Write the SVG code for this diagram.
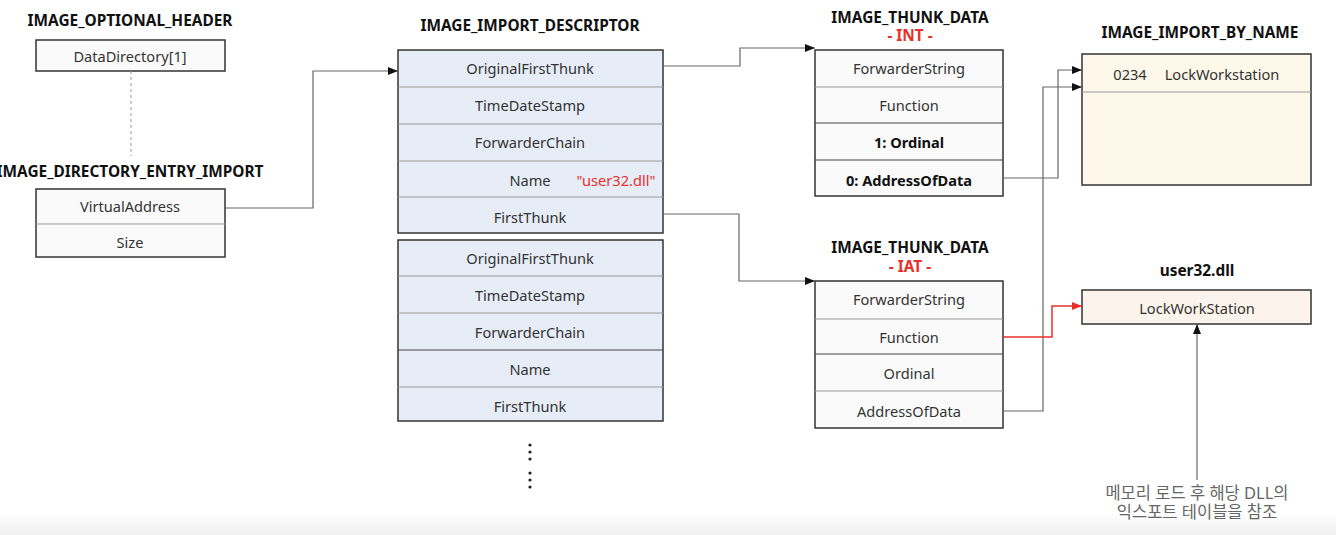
<svg xmlns="http://www.w3.org/2000/svg" width="1336" height="535" viewBox="0 0 1336 535">
<defs>
<linearGradient id="bot" x1="0" y1="0" x2="0" y2="1">
<stop offset="0" stop-color="#ffffff"/>
<stop offset="1" stop-color="#efefef"/>
</linearGradient>
<marker id="ah" markerWidth="10" markerHeight="8" refX="10" refY="4" orient="auto" markerUnits="userSpaceOnUse">
<path d="M0,0 L10,4 L0,8 Z" fill="#111"/>
</marker>
<marker id="ahr" markerWidth="10" markerHeight="8" refX="10" refY="4" orient="auto" markerUnits="userSpaceOnUse">
<path d="M0,0 L10,4 L0,8 Z" fill="#e8302a"/>
</marker>
</defs>
<style>
text{font-family:"Noto Sans","Noto Sans CJK KR",sans-serif;font-size:14.6px;fill:#333;text-anchor:middle;dominant-baseline:central}
.t{font-weight:bold;fill:#111;font-size:15.4px}
.red{fill:#e8302a}
.b{font-weight:bold;fill:#111}
.box{stroke:#333;stroke-width:1.5}
.div{stroke:#999;stroke-width:1}
.divd{stroke:#444;stroke-width:1}
.con{fill:none;stroke:#666;stroke-width:1.2}
.note{fill:#666;font-size:16.5px}
</style>
<rect x="0" y="0" width="1336" height="535" fill="#fff"/>
<rect x="0" y="512" width="1336" height="23" fill="url(#bot)"/>

<g id="optional-header">
<text class="t" x="130" y="20">IMAGE_OPTIONAL_HEADER</text>
<rect class="box" x="36" y="40" width="189" height="31" fill="#fafafa"/>
<text x="130" y="56">DataDirectory[1]</text>
</g>
<line x1="131" y1="71" x2="131" y2="156" stroke="#999" stroke-width="1" stroke-dasharray="3,3"/>

<g id="directory-entry-import">
<text class="t" x="130" y="171">IMAGE_DIRECTORY_ENTRY_IMPORT</text>
<rect class="box" x="36" y="189" width="189" height="68" fill="#fafafa"/>
<line class="div" x1="36" y1="224" x2="225" y2="224"/>
<text x="130" y="206">VirtualAddress</text>
<text x="130" y="242">Size</text>
</g>

<g id="import-descriptor">
<text class="t" x="530" y="25">IMAGE_IMPORT_DESCRIPTOR</text>
<rect class="box" x="398" y="50" width="265" height="183" fill="#e7edf7"/>
<line class="div" x1="398" y1="87" x2="663" y2="87"/>
<line class="div" x1="398" y1="124" x2="663" y2="124"/>
<line class="div" x1="398" y1="161" x2="663" y2="161"/>
<line class="div" x1="398" y1="197" x2="663" y2="197"/>
<text x="530" y="68">OriginalFirstThunk</text>
<text x="530" y="105">TimeDateStamp</text>
<text x="530" y="142">ForwarderChain</text>
<text x="530" y="180">Name</text>
<text class="red" x="616" y="180">"user32.dll"</text>
<text x="530" y="217">FirstThunk</text>
</g>

<g id="import-descriptor-2">
<rect class="box" x="398" y="240" width="265" height="181" fill="#e7edf7"/>
<line class="div" x1="398" y1="276" x2="663" y2="276"/>
<line class="div" x1="398" y1="313" x2="663" y2="313"/>
<line class="divd" x1="398" y1="350" x2="663" y2="350"/>
<line class="div" x1="398" y1="387" x2="663" y2="387"/>
<text x="530" y="258">OriginalFirstThunk</text>
<text x="530" y="295">TimeDateStamp</text>
<text x="530" y="332">ForwarderChain</text>
<text x="530" y="369">Name</text>
<text x="530" y="406">FirstThunk</text>
<g fill="#222">
<circle cx="530" cy="445" r="1.6"/><circle cx="530" cy="452" r="1.6"/><circle cx="530" cy="459" r="1.6"/>
<circle cx="530" cy="473" r="1.6"/><circle cx="530" cy="480" r="1.6"/><circle cx="530" cy="487" r="1.6"/>
</g>
</g>

<g id="thunk-int">
<text class="t" x="910" y="17">IMAGE_THUNK_DATA</text>
<text class="t red" x="910" y="35">- INT -</text>
<rect class="box" x="815" y="50" width="188" height="146" fill="#fafafa"/>
<line class="div" x1="815" y1="87" x2="1003" y2="87"/>
<line class="divd" x1="815" y1="123" x2="1003" y2="123"/>
<line class="divd" x1="815" y1="160" x2="1003" y2="160"/>
<text x="909" y="68">ForwarderString</text>
<text x="909" y="105">Function</text>
<text class="b" x="909" y="142">1: Ordinal</text>
<text class="b" x="909" y="180">0: AddressOfData</text>
</g>

<g id="thunk-iat">
<text class="t" x="910" y="247">IMAGE_THUNK_DATA</text>
<text class="t red" x="910" y="266">- IAT -</text>
<rect class="box" x="815" y="281" width="188" height="147" fill="#fafafa"/>
<line class="div" x1="815" y1="319" x2="1003" y2="319"/>
<line class="divd" x1="815" y1="354" x2="1003" y2="354"/>
<line class="div" x1="815" y1="391" x2="1003" y2="391"/>
<text x="909" y="299">ForwarderString</text>
<text x="909" y="337">Function</text>
<text x="909" y="373">Ordinal</text>
<text x="909" y="411">AddressOfData</text>
</g>

<g id="import-by-name">
<text class="t" x="1200" y="32">IMAGE_IMPORT_BY_NAME</text>
<rect class="box" x="1082" y="54" width="229" height="131" fill="#fdf8e9"/>
<line class="div" x1="1082" y1="92" x2="1311" y2="92"/>
<text x="1130" y="74">0234</text>
<text x="1222" y="74">LockWorkstation</text>
</g>

<g id="user32-dll">
<text class="t" x="1197" y="270">user32.dll</text>
<rect class="box" x="1082" y="290" width="229" height="34" fill="#fcf3ec"/>
<text x="1197" y="308">LockWorkStation</text>
</g>

<g id="note">
<text class="note" x="1197" y="492">메모리 로드 후 해당 DLL의</text>
<text class="note" x="1197" y="511">익스포트 테이블을 참조</text>
</g>

<g id="connectors">
<path class="con" d="M225,208 H313 V71 H398" marker-end="url(#ah)"/>
<path class="con" d="M663,66 H740 V48 H815" marker-end="url(#ah)"/>
<path class="con" d="M663,214 H739 V281 H815" marker-end="url(#ah)"/>
<path class="con" d="M1003,178 H1058 V70 H1082" marker-end="url(#ah)"/>
<path class="con" d="M1003,411 H1043 V87 H1082" marker-end="url(#ah)"/>
<path fill="none" stroke="#e8302a" stroke-width="1.5" d="M1003,337 H1052 V306 H1082" marker-end="url(#ahr)"/>
<path class="con" d="M1197,480 V324" marker-end="url(#ah)"/>
</g>
</svg>
